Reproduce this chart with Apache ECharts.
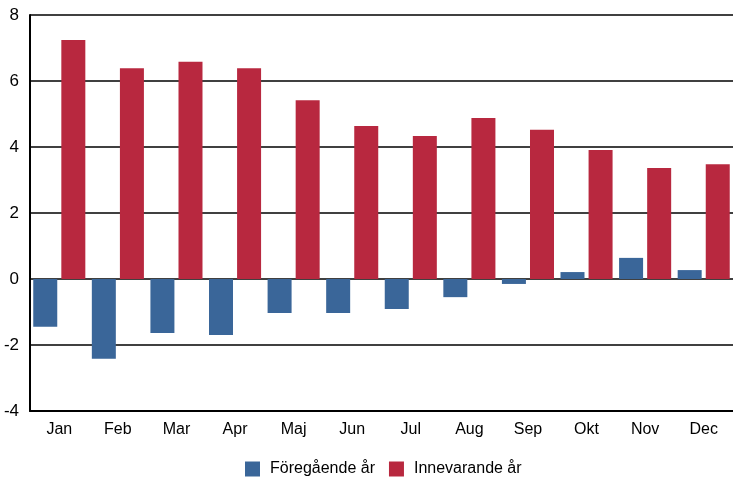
<!DOCTYPE html>
<html>
<head>
<meta charset="utf-8">
<script src="https://cdn.jsdelivr.net/npm/echarts@6/dist/echarts.min.js"></script>
<style>
  html,body{margin:0;padding:0;background:#fff;}
  #chart{width:733px;height:486px;}
</style>
</head>
<body>
<div id="chart"></div>
<script>
var months = ['Jan','Feb','Mar','Apr','Maj','Jun','Jul','Aug','Sep','Okt','Nov','Dec'];
var prevYear = [-1.45,-2.42,-1.64,-1.7,-1.03,-1.03,-0.91,-0.55,-0.15,0.21,0.64,0.27];
var currYear = [7.24,6.39,6.58,6.39,5.42,4.64,4.33,4.88,4.52,3.91,3.36,3.48];

var chart = echarts.init(document.getElementById('chart'));
var option = {
  animation: false,
  textStyle: { fontFamily: 'Liberation Sans, Arial, sans-serif' },
  grid: { left: 30, right: 0, top: 15, bottom: 75, containLabel: false },
  legend: {
    top: 456,
    left: 240,
    itemWidth: 15,
    itemHeight: 15,
    itemGap: 14,
    icon: 'rect',
    textStyle: { fontSize: 16, color: '#000', padding: [0, 0, 0, 5] },
    data: ['Föregående år','Innevarande år']
  },
  xAxis: {
    type: 'category',
    data: months,
    axisLine: { onZero: false, lineStyle: { color: '#000', width: 2 } },
    axisTick: { show: false },
    axisLabel: { color: '#000', fontSize: 16, margin: 11 }
  },
  yAxis: {
    type: 'value',
    min: -4,
    max: 8,
    interval: 2,
    axisLine: { show: true, lineStyle: { color: '#000', width: 2 } },
    axisTick: { show: false },
    axisLabel: { color: '#000', fontSize: 17, margin: 11 },
    splitLine: { lineStyle: { color: '#000', width: 1.5 } }
  },
  series: [
    {
      name: 'Föregående år',
      type: 'bar',
      data: prevYear,
      barWidth: 24,
      barGap: '17%',
      itemStyle: { color: '#3A6699' }
    },
    {
      name: 'Innevarande år',
      type: 'bar',
      data: currYear,
      barWidth: 24,
      itemStyle: { color: '#B8283F' }
    }
  ]
};
chart.setOption(option);
</script>
</body>
</html>
